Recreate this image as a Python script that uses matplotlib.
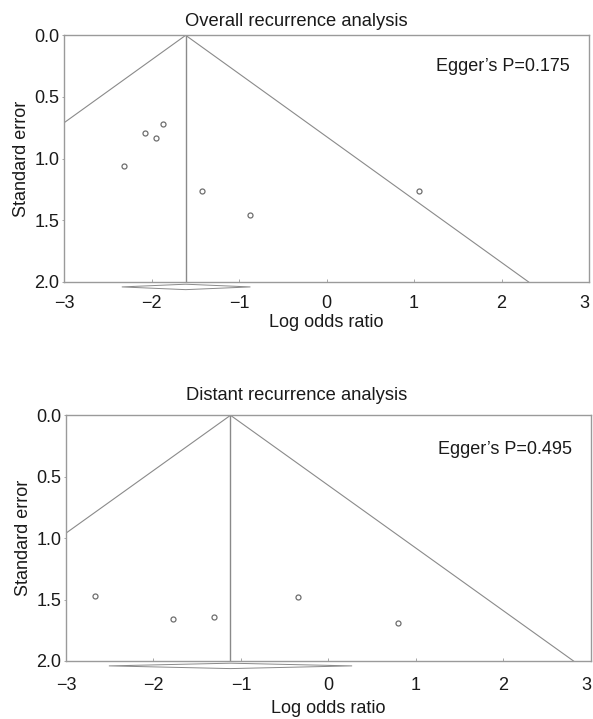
import numpy as np
import matplotlib
matplotlib.use('Agg')
import matplotlib.pyplot as plt
from matplotlib.patches import Polygon

plt.rcParams['font.family'] = ['Liberation Sans', 'DejaVu Sans']

# Overall recurrence: study log odds ratios and standard errors
overall_lor = [-2.32, -2.07, -1.95, -1.87, -1.42, -0.87, 1.06]
overall_se = [1.06, 0.79, 0.83, 0.72, 1.265, 1.46, 1.265]
overall_pooled = -1.61
overall_ci = [-2.34, -0.87]
overall_p = '0.175'

# Distant recurrence
distant_lor = [-2.665, -1.78, -1.31, -0.35, 0.79]
distant_se = [1.47, 1.66, 1.645, 1.477, 1.693]
distant_pooled = -1.12
distant_ci = [-2.51, 0.27]
distant_p = '0.495'

LINE = '#8a8a8a'
SPINE = '#9a9a9a'


def funnel(ax, lor, se, pooled, ci, p, title, title_x, title_pad, tick_pad, xlab_pad, egger_y):
    se_max = 2.0
    # pseudo 95% limits
    ax.plot([pooled - 1.96 * se_max, pooled, pooled + 1.96 * se_max],
            [se_max, 0, se_max], color=LINE, lw=0.8)
    ax.plot([pooled, pooled], [0, se_max], color=LINE, lw=1.0)
    ax.plot(lor, se, 'o', ms=3.6, mfc='white', mec='#6e6e6e', mew=0.9)
    # pooled estimate diamond below the axis
    dy = 0.022
    yc = 2.04
    diamond = Polygon([[ci[0], yc], [pooled, yc - dy], [ci[1], yc], [pooled, yc + dy]],
                      closed=True, fc='white', ec=LINE, lw=0.7, clip_on=False)
    ax.add_patch(diamond)
    ax.set_xlim(-3, 3)
    ax.set_ylim(2, 0)
    ax.set_xticks(range(-3, 4))
    ax.set_xticklabels(['\u22123', '\u22122', '\u22121', '0', '1', '2', '3'])
    ax.get_xticklabels()[-1].set_horizontalalignment('right')
    ax.set_yticks([0, 0.5, 1.0, 1.5, 2.0])
    ax.set_yticklabels(['0.0', '0.5', '1.0', '1.5', '2.0'])
    ax.tick_params(axis='x', direction='in', length=2, width=0.6, color=SPINE,
                   labelsize=13, pad=tick_pad, labelcolor='#1a1a1a')
    ax.tick_params(axis='y', direction='out', length=1.5, width=0.6, color=SPINE,
                   labelsize=13, pad=2, labelcolor='#1a1a1a')
    for s in ax.spines.values():
        s.set_color(SPINE)
        s.set_linewidth(1.0)
    ax.set_title(title, fontsize=13.2, pad=title_pad, color='#1a1a1a', x=title_x)
    ax.set_xlabel('Log odds ratio', fontsize=13, labelpad=xlab_pad, color='#1a1a1a')
    ax.set_ylabel('Standard error', fontsize=13, labelpad=3, color='#1a1a1a')
    ax.text(0.963, egger_y, "Egger\u2019s P=" + p, transform=ax.transAxes,
            ha='right', va='center', fontsize=13, color='#1a1a1a')


fig = plt.figure(figsize=(5.93, 7.19), dpi=100)
ax1 = fig.add_axes([0.108, 0.6078, 0.8853, 0.3431])
ax2 = fig.add_axes([0.1113, 0.0807, 0.8853, 0.3417])

funnel(ax1, overall_lor, overall_se, overall_pooled, overall_ci, overall_p,
       'Overall recurrence analysis', 0.443, 7, 9.5, 1, 0.873)
funnel(ax2, distant_lor, distant_se, distant_pooled, distant_ci, distant_p,
       'Distant recurrence analysis', 0.44, 11, 11.5, 4, 0.862)

fig.savefig('out.png', dpi=100)
